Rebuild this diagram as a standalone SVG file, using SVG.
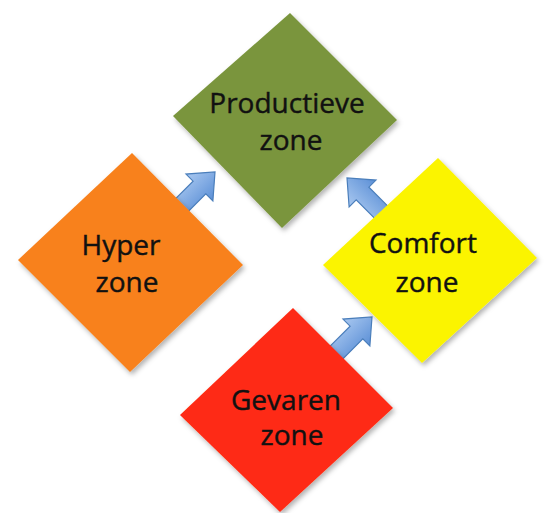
<svg xmlns="http://www.w3.org/2000/svg" width="544" height="513" viewBox="0 0 544 513">
<defs>
<linearGradient id="ag" x1="0" y1="0" x2="0" y2="1">
<stop offset="0" stop-color="#a9c8f0"/>
<stop offset="1" stop-color="#5b8fd6"/>
</linearGradient>
<filter id="sh" x="-10%" y="-10%" width="130%" height="130%">
<feDropShadow dx="2" dy="3" stdDeviation="2.5" flood-color="#000" flood-opacity="0.3"/>
</filter>
<path id="arr" d="M0,-9 L30,-9 L30,-19 L52,0 L30,19 L30,9 L0,9 Z"/>
</defs>
<style>
.lbl{font-family:"Open Sans","Liberation Sans",sans-serif;font-size:28px;fill:#111;text-anchor:middle;stroke:#111;stroke-width:0.4}
.arrow{fill:url(#ag);stroke:#4a7ebb;stroke-width:1.2;stroke-linejoin:miter}
.dm{filter:url(#sh)}
</style>
<rect width="544" height="513" fill="#fff"/>
<g id="connectors">
<use href="#arr" class="arrow" transform="translate(215,172) rotate(-45) translate(-52,0)"/>
<use href="#arr" class="arrow" transform="translate(347,178) rotate(-135) translate(-52,0)"/>
<use href="#arr" class="arrow" transform="translate(372,317) rotate(-45) translate(-52,0)"/>
</g>
<g id="productieve">
<polygon class="dm" points="290,13 397,120 282,228 173,116" fill="#7a953d"/>
<text class="lbl" x="287" y="113">Productieve</text>
<text class="lbl" x="291" y="150">zone</text>
</g>
<g id="hyper">
<polygon class="dm" points="132,153 243,265 130,372 18,260" fill="#f8811c"/>
<text class="lbl" x="121" y="255">Hyper</text>
<text class="lbl" x="127" y="292">zone</text>
</g>
<g id="comfort">
<polygon class="dm" points="438,158 537,258 422,363 323,265" fill="#fbf405"/>
<text class="lbl" x="423" y="253">Comfort</text>
<text class="lbl" x="427" y="292">zone</text>
</g>
<g id="gevaren">
<polygon class="dm" points="293,308 393,408 280,512 180,415" fill="#fe2b12"/>
<text class="lbl" x="286" y="410">Gevaren</text>
<text class="lbl" x="292" y="445">zone</text>
</g>
</svg>
